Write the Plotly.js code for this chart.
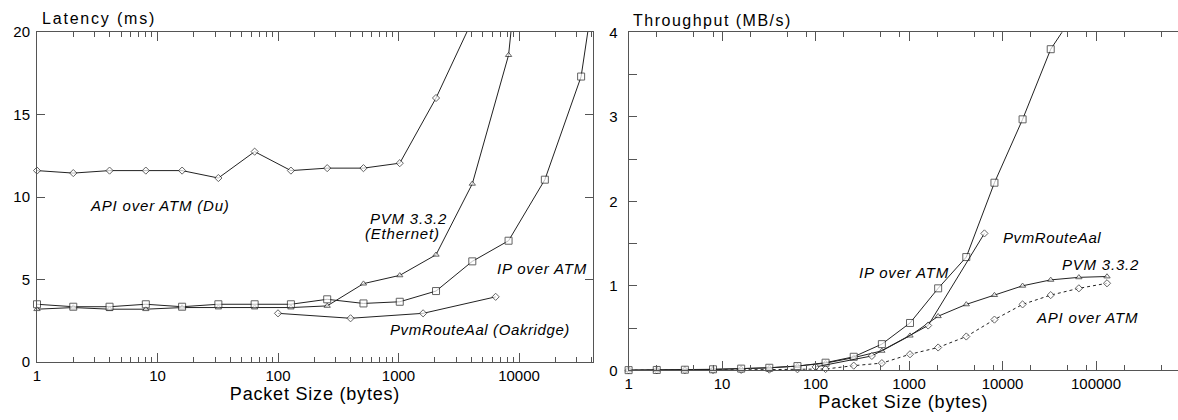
<!DOCTYPE html>
<html>
<head>
<meta charset="utf-8">
<script src="https://cdn.plot.ly/plotly-3.0.1.min.js"></script>
<style>
  html, body { margin: 0; padding: 0; background: #fff; }
  #chart { width: 1178px; height: 420px; }
</style>
</head>
<body>
<div id="chart"></div>
<script>
// Packet sizes (bytes) used by the measurement runs
const latencySizes = [1, 2, 4, 8, 16, 32, 64, 128, 256, 512, 1024, 2048, 4096, 8192, 16384, 32768, 65536];
const oakridgeSizes = [100, 400, 1600, 6400];
const throughputSizes = [1, 2, 4, 8, 16, 32, 64, 128, 256, 512, 1024, 2048, 4096, 8192, 16384, 32768, 65536, 131072];

// Latency (ms)
const apiDuLatency = [11.6, 11.45, 11.6, 11.6, 11.6, 11.15, 12.75, 11.6, 11.75, 11.75, 12.05, 16.0, 20.7];
const pvmEthernetLatency = [3.2, 3.3, 3.2, 3.2, 3.3, 3.3, 3.3, 3.3, 3.4, 4.75, 5.25, 6.5, 10.8, 18.6, 40];
const ipAtmLatency = [3.5, 3.35, 3.35, 3.5, 3.35, 3.5, 3.5, 3.5, 3.8, 3.55, 3.65, 4.3, 6.1, 7.35, 11.05, 17.3, 32];
const oakridgeLatency = [2.95, 2.65, 2.95, 3.95];

// Throughput (MB/s)
const ipAtmThroughput = [0.002, 0.004, 0.007, 0.012, 0.02, 0.03, 0.05, 0.09, 0.16, 0.31, 0.56, 0.97, 1.34, 2.22, 2.97, 3.80, 4.3];
const pvmThroughput = [0.002, 0.003, 0.006, 0.01, 0.02, 0.03, 0.05, 0.085, 0.15, 0.23, 0.41, 0.64, 0.78, 0.89, 1.00, 1.07, 1.10, 1.11];
const apiThroughput = [0.001, 0.001, 0.002, 0.003, 0.005, 0.008, 0.012, 0.015, 0.055, 0.085, 0.19, 0.27, 0.40, 0.60, 0.78, 0.89, 0.97, 1.03];
const oakridgeThroughput = [0.04, 0.17, 0.53, 1.62];

// Axis tick labels
const latencyXTicks = [1, 10, 100, 1000, 10000];
const throughputXTicks = [1, 10, 100, 1000, 10000, 100000];
const latencyYTicks = [0, 5, 10, 15, 20];
const throughputYTicks = [0, 1, 2, 3, 4];

const W = 1178, H = 420;
const INK = '#000';
const AXIS = '#555';
const FONT = 'Liberation Sans, Arial, Helvetica, sans-serif';

// plot-area edges in pixels
const L = { left: 37, right: 593, top: 32, bottom: 362 };
const R = { left: 628.6, right: 1178, top: 32.3, bottom: 370.3 };
const LX_MAX = 4.614, RX_MAX = 5.877;   // log10 of the right-hand axis limits
const LY_MAX = 20, RY_MAX = 4;

function minorTicks(maxLog, digits) {
  const out = [];
  for (let d = 0; d <= Math.ceil(maxLog); d++) {
    digits.forEach(m => { const v = m * Math.pow(10, d); if (Math.log10(v) < maxLog) out.push(v); });
  }
  return out;
}

// hide markers that fall outside the visible range; the line still runs to them
function markerSizes(xs, ys, size, xMaxLog, yMax) {
  return ys.map((y, i) => (y <= yMax && Math.log10(xs[i]) <= xMaxLog) ? size : 0);
}

function series(xs, ys, symbol, size, axes, dash, xMaxLog, yMax) {
  const x = xs.slice(0, ys.length);
  return {
    x: x, y: ys, xaxis: axes[0], yaxis: axes[1],
    type: 'scatter', mode: 'lines+markers', cliponaxis: false,
    line: { color: '#222', width: 1, dash: dash || 'solid' },
    marker: { symbol: symbol, size: markerSizes(x, ys, size, xMaxLog, yMax), color: '#fff', line: { color: '#222', width: 1 } },
    hoverinfo: 'x+y'
  };
}

const data = [
  series(latencySizes, apiDuLatency, 'diamond', 5.5, ['x', 'y'], null, LX_MAX, LY_MAX),
  series(latencySizes, pvmEthernetLatency, 'triangle-up', 5.5, ['x', 'y'], null, LX_MAX, LY_MAX),
  series(latencySizes, ipAtmLatency, 'square', 7, ['x', 'y'], null, LX_MAX, LY_MAX),
  series(oakridgeSizes, oakridgeLatency, 'diamond', 5.5, ['x', 'y'], null, LX_MAX, LY_MAX),
  series(throughputSizes, apiThroughput, 'diamond', 5.5, ['x2', 'y2'], 'dot', RX_MAX, RY_MAX),
  series(throughputSizes, pvmThroughput, 'triangle-up', 5.5, ['x2', 'y2'], null, RX_MAX, RY_MAX),
  series(throughputSizes, ipAtmThroughput, 'square', 7, ['x2', 'y2'], null, RX_MAX, RY_MAX),
  series(oakridgeSizes, oakridgeThroughput, 'diamond', 5.5, ['x2', 'y2'], null, RX_MAX, RY_MAX)
];

const tickFont = { family: FONT, size: 15, color: INK };

function logAxis(edges, maxLog, ticks, minorDigits, anchor, title) {
  return {
    type: 'log', anchor: anchor,
    domain: [edges.left / W, edges.right / W],
    range: [0, maxLog],
    showline: true, linecolor: AXIS, linewidth: 1, mirror: 'ticks',
    ticks: 'inside', ticklen: 9, tickwidth: 1, tickcolor: AXIS,
    tickmode: 'array', tickvals: ticks, ticktext: ticks.map(String),
    tickfont: tickFont,
    showgrid: false, zeroline: false,
    minor: { tickmode: 'array', tickvals: minorTicks(maxLog, minorDigits), ticks: 'inside', ticklen: 5, tickcolor: AXIS, showgrid: false },
    title: { text: '<span style="letter-spacing:0.8px">' + title + '</span>', font: { family: FONT, size: 18, color: INK }, standoff: 0 }
  };
}

function linAxis(edges, maxVal, ticks, anchor, mirror, minorStep, labelGap) {
  const ax = {
    anchor: anchor,
    domain: [1 - edges.bottom / H, 1 - edges.top / H],
    range: [0, maxVal],
    showline: true, linecolor: AXIS, linewidth: 1, mirror: mirror,
    ticks: 'inside', ticklen: 8, tickwidth: 1, tickcolor: AXIS,
    tickmode: 'array', tickvals: ticks, ticktext: ticks.map(String),
    tickfont: tickFont, ticklabelstandoff: labelGap,
    showgrid: false, zeroline: false
  };
  if (minorStep) ax.minor = { dtick: minorStep, ticks: 'inside', ticklen: 8, tickcolor: AXIS, showgrid: false };
  return ax;
}

function label(text, xPx, yPx, xanchor, size, italic, spacing) {
  return {
    xref: 'paper', yref: 'paper', x: xPx / W, y: 1 - yPx / H,
    xanchor: xanchor, yanchor: 'middle', showarrow: false,
    text: '<span style="letter-spacing:' + spacing + 'px">' + text + '</span>',
    font: { family: FONT, size: size, color: INK, style: italic ? 'italic' : 'normal' }
  };
}

const layout = {
  width: W, height: H,
  margin: { l: 0, r: 0, t: 0, b: 0 },
  paper_bgcolor: '#fff', plot_bgcolor: '#fff',
  showlegend: false,
  font: { family: FONT, size: 15, color: INK },
  xaxis: logAxis(L, LX_MAX, latencyXTicks, [2, 3, 4, 5, 6, 7, 8, 9], 'y', 'Packet Size (bytes)'),
  yaxis: linAxis(L, LY_MAX, latencyYTicks, 'x', 'ticks', null, 3),
  xaxis2: logAxis(R, RX_MAX, throughputXTicks, [2, 5, 8], 'y2', 'Packet Size (bytes)'),
  yaxis2: linAxis(R, RY_MAX, throughputYTicks, 'x2', false, 0.5, 7),
  annotations: [
    label('Latency (ms)', 40, 19, 'left', 16, false, 1.8),
    label('Throughput (MB/s)', 631, 20, 'left', 16, false, 1.5),
    label('API over ATM (Du)', 88, 205, 'left', 15, true, 0.8),
    label('PVM 3.3.2', 368, 218, 'left', 15, true, 0.8),
    label('(Ethernet)', 363, 233, 'left', 15, true, 0.8),
    label('IP over ATM', 495, 268, 'left', 15, true, 0.8),
    label('PvmRouteAal (Oakridge)', 388, 329, 'left', 15, true, 0.6),
    label('PvmRouteAal', 1001, 237, 'left', 15, true, 0.6),
    label('IP over ATM', 857, 272, 'left', 15, true, 0.8),
    label('PVM 3.3.2', 1060, 264, 'left', 15, true, 0.8),
    label('API over ATM', 1034, 317, 'left', 15, true, 0.8)
  ]
};

Plotly.newPlot('chart', data, layout, { displayModeBar: false, staticPlot: true });
</script>
</body>
</html>
